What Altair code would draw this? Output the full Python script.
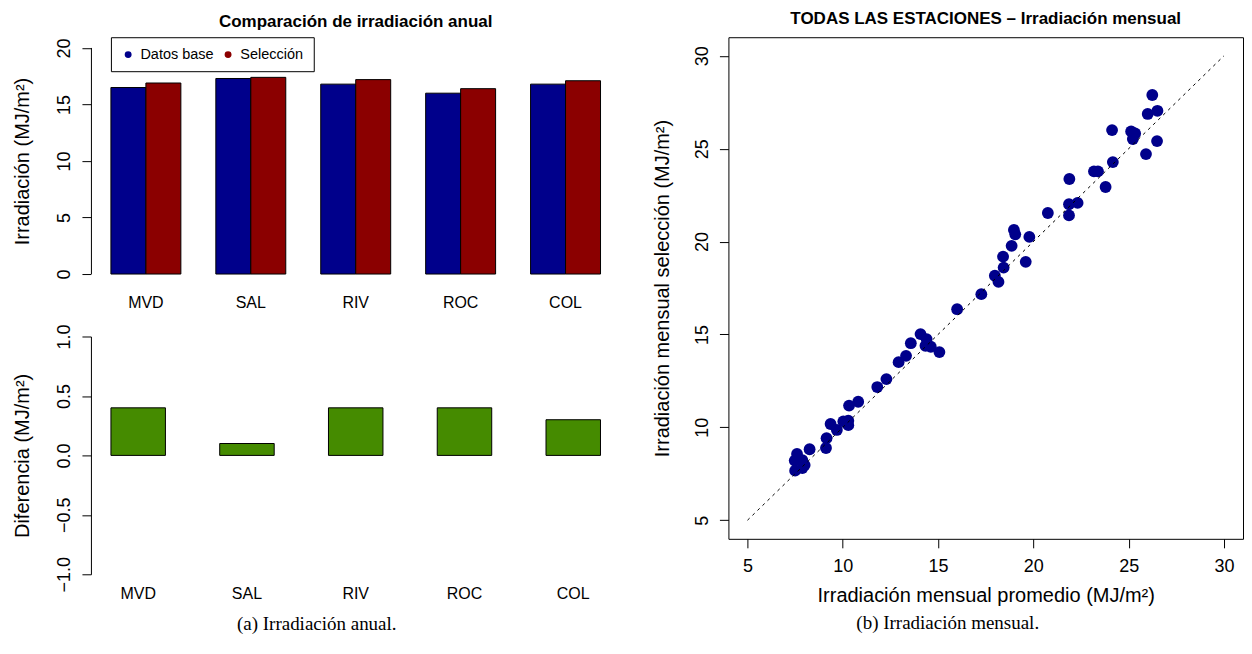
import altair as alt
import pandas as pd

# ---------------- data ----------------
stations = ["MVD", "SAL", "RIV", "ROC", "COL"]
series = ["Datos base", "Selección"]
base_vals = [16.5, 17.3, 16.8, 16.0, 16.8]
sel_vals = [16.9, 17.4, 17.2, 16.4, 17.1]
diff_vals = [0.4, 0.1, 0.4, 0.4, 0.3]

x_prom = [14.08, 14.40, 13.57, 14.34, 14.62, 15.07, 13.32, 12.93, 12.29, 11.81,
          10.81, 10.33, 9.36, 9.69, 10.29, 10.29, 10.03, 9.15, 9.12, 8.26,
          7.60, 7.48, 7.88, 8.00, 7.50, 7.88, 16.00,
          26.24, 26.00, 26.51, 24.13, 25.13, 25.34, 25.22, 26.49, 25.91, 24.17,
          23.18, 23.39, 21.89, 23.79, 22.32, 21.87, 20.76, 21.87, 18.98, 19.05,
          19.79, 18.86, 18.41, 19.60, 18.44, 17.98, 18.17, 17.27]
y_sel = [15.02, 14.75, 14.53, 14.39, 14.34, 14.05, 13.85, 13.51, 12.60, 12.17,
         11.38, 11.17, 10.18, 9.86, 10.36, 10.12, 10.32, 9.42, 8.89, 8.82,
         8.57, 8.21, 8.24, 7.97, 7.67, 7.81, 16.36,
         27.89, 26.87, 27.04, 26.00, 25.93, 25.82, 25.52, 25.41, 24.71, 24.28,
         23.78, 23.78, 23.37, 22.94, 22.08, 22.01, 21.54, 21.41, 20.63, 20.39,
         20.25, 19.77, 19.19, 18.91, 18.60, 18.16, 17.83, 17.17]
ref_line = [5, 30]

bar_ticks = [0, 5, 10, 15, 20]
diff_ticks = [-1.0, -0.5, 0.0, 0.5, 1.0]
sc_ticks = [5, 10, 15, 20, 25, 30]

# ---------------- tables ----------------
df_bars = pd.DataFrame({
    "station": stations * 2,
    "serie": [series[0]] * 5 + [series[1]] * 5,
    "value": base_vals + sel_vals,
})
df_diff = pd.DataFrame({"station": stations, "diff": diff_vals})
df_sc = pd.DataFrame({"prom": x_prom, "sel": y_sel})
df_line = pd.DataFrame({"v": ref_line})
df_axis = pd.DataFrame({"lo": [bar_ticks[0]], "hi": [bar_ticks[-1]]})

FONT = "Liberation Sans"
TICK_FS = 18
TITLE_FS = 20
CAT_FS = 16
HEAD_FS = 17

left_w = 530
top_h = 237
top_max = 20.95  # plot region reaches a bit above the last tick (as in R)
bot_h = 238
sc_w = 515
sc_h = 502

# centre of the 0..20 span inside the taller top view
top_title_y = top_h - (top_h * (bar_ticks[-1] / top_max)) / 2


def yaxis(values, title, title_y, fmt=None, domain=True):
    kw = dict(values=values, title=title, grid=False, domain=domain,
              domainColor="black", ticks=True, tickSize=9, tickColor="black",
              labelAngle=270, labelAlign="center", labelBaseline="alphabetic",
              labelPadding=12, labelFontSize=TICK_FS, labelColor="black",
              titleAngle=270, titleAlign="center", titleBaseline="middle",
              titleX=-68, titleY=title_y, titleFontSize=TITLE_FS,
              titleFontWeight="normal", titleColor="black")
    if fmt:
        kw["format"] = fmt
    return alt.Axis(**kw)


cat_axis_top = alt.Axis(title=None, labelAngle=0, domain=False, ticks=False,
                        labelPadding=20, labelFontSize=CAT_FS, labelColor="black")
cat_axis_bot = alt.Axis(title=None, labelAngle=0, domain=False, ticks=False,
                        labelPadding=11.5, labelFontSize=CAT_FS, labelColor="black")

top_bars = alt.Chart(df_bars).mark_bar(stroke="black", strokeWidth=1).encode(
    x=alt.X("station:N", sort=stations,
            scale=alt.Scale(paddingInner=0.3333, paddingOuter=0.1905),
            axis=cat_axis_top),
    xOffset=alt.XOffset("serie:N", sort=series,
                        scale=alt.Scale(paddingInner=0, paddingOuter=0)),
    y=alt.Y("value:Q", scale=alt.Scale(domain=[0, top_max], nice=False),
            axis=yaxis(bar_ticks, "Irradiación (MJ/m²)", top_title_y,
                       domain=False)),
    color=alt.Color("serie:N",
                    scale=alt.Scale(domain=series, range=["#00008B", "#8B0000"]),
                    legend=alt.Legend(orient="none", legendX=20, legendY=0,
                                      direction="horizontal", title=None,
                                      symbolType="circle", symbolSize=48,
                                      symbolStrokeWidth=0, labelFontSize=14.5,
                                      labelColor="black", labelOffset=5,
                                      columnPadding=7, padding=10,
                                      strokeColor="black", fillColor="white")),
)

top_axis_line = alt.Chart(df_axis).mark_rule(color="black", strokeWidth=1).encode(
    x=alt.value(0.5),
    y=alt.Y("lo:Q"),
    y2=alt.Y2("hi:Q"),
)

top = alt.layer(top_bars, top_axis_line).properties(
    width=left_w, height=top_h,
    title=alt.Title("Comparación de irradiación anual", fontSize=HEAD_FS,
                    fontWeight="bold", color="black", anchor="middle",
                    offset=6.5),
)

bottom = alt.Chart(df_diff).mark_bar(color="#458B00", stroke="black",
                                     strokeWidth=1).encode(
    x=alt.X("station:N", sort=stations,
            scale=alt.Scale(paddingInner=0.499, paddingOuter=0.184),
            axis=cat_axis_bot),
    y=alt.Y("diff:Q", scale=alt.Scale(domain=[-1, 1], nice=False),
            axis=yaxis(diff_ticks, "Diferencia (MJ/m²)", bot_h / 2, fmt=".1f")),
).properties(width=left_w, height=bot_h)

left = alt.vconcat(top, bottom, spacing=13.5,
                   title=alt.Title("(a) Irradiación anual.", orient="bottom",
                                   font="Liberation Serif", fontSize=19,
                                   fontWeight="normal", color="black",
                                   anchor="middle", offset=13.3))

pts = alt.Chart(df_sc).mark_circle(size=140, opacity=1, color="#00008B").encode(
    x=alt.X("prom:Q", scale=alt.Scale(domain=[4, 31], nice=False, zero=False),
            axis=alt.Axis(values=sc_ticks, grid=False, domain=False, tickSize=9,
                          tickColor="black", labelFontSize=TICK_FS,
                          labelColor="black", labelPadding=9.7,
                          title="Irradiación mensual promedio (MJ/m²)",
                          titleFontSize=TITLE_FS, titleFontWeight="normal",
                          titleColor="black", titleY=56.8, titleBaseline="middle")),
    y=alt.Y("sel:Q", scale=alt.Scale(domain=[4, 31], nice=False, zero=False),
            axis=alt.Axis(values=sc_ticks, grid=False, domain=False, tickSize=9,
                          tickColor="black", labelAngle=270, labelAlign="center",
                          labelBaseline="alphabetic", labelPadding=12,
                          labelFontSize=TICK_FS, labelColor="black",
                          title="Irradiación mensual selección (MJ/m²)",
                          titleAngle=270, titleAlign="center",
                          titleBaseline="middle", titleX=-66, titleY=sc_h / 2,
                          titleFontSize=TITLE_FS, titleFontWeight="normal",
                          titleColor="black")),
)

line = alt.Chart(df_line).mark_line(color="black", strokeWidth=1,
                                    strokeDash=[3, 4]).encode(
    x=alt.X("v:Q"), y=alt.Y("v:Q"))

scatter = alt.layer(pts, line).properties(
    width=sc_w, height=sc_h,
    view=alt.ViewBackground(stroke="black", strokeWidth=1),
    title=alt.Title("TODAS LAS ESTACIONES – Irradiación mensual", fontSize=HEAD_FS,
                    fontWeight="bold", color="black", anchor="middle",
                    offset=9.6),
)

right = alt.vconcat(scatter,
                    title=alt.Title("(b) Irradiación mensual.", orient="bottom",
                                    font="Liberation Serif", fontSize=19,
                                    fontWeight="normal", color="black",
                                    anchor="middle", offset=8.4))

chart = alt.hconcat(left, right, spacing=31).properties(
    padding={"left": 5, "top": 0, "right": 0, "bottom": 0}
).configure(font=FONT).configure_view(stroke=None)

chart.save("out.html", embed_options={"renderer": "svg", "actions": False})
